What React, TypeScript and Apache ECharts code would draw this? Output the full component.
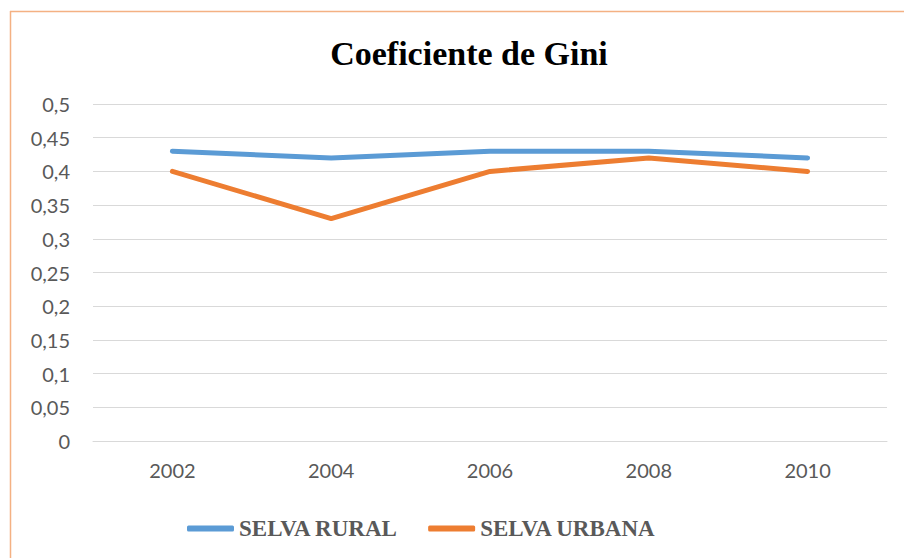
import React, { useEffect, useRef } from "react";
import * as echarts from "echarts";

const years = ["2002", "2004", "2006", "2008", "2010"];
const selvaRural = [0.43, 0.42, 0.43, 0.43, 0.42];
const selvaUrbana = [0.4, 0.33, 0.4, 0.42, 0.4];
const seriesNames = ["SELVA RURAL", "SELVA URBANA"];
const chartTitle = "Coeficiente de Gini";

export default function App() {
  const ref = useRef<HTMLDivElement>(null);
  useEffect(() => {
    if (!ref.current) return;
    const chart = echarts.init(ref.current, null, { renderer: "svg" });
    chart.setOption({
      animation: false,
      backgroundColor: "#ffffff",
      title: {
        text: chartTitle,
        left: 464,
        textAlign: "center",
        top: 31,
        textStyle: {
          fontFamily: "Liberation Serif",
          fontWeight: "bold",
          fontSize: 34,
          color: "#000000",
        },
      },
      graphic: [
        { type: "line", shape: { x1: 10.5, y1: 11, x2: 10.5, y2: 558 }, style: { stroke: "#F4B183", lineWidth: 1.5 } },
        { type: "line", shape: { x1: 10, y1: 11.5, x2: 904, y2: 11.5 }, style: { stroke: "#F4B183", lineWidth: 1.5 } },
      ],
      legend: {
        left: 182,
        top: 512,
        icon: "roundRect",
        itemWidth: 47,
        itemHeight: 6,
        itemGap: 30,
        textStyle: {
          fontFamily: "Liberation Serif",
          fontWeight: "bold",
          fontSize: 23,
          color: "#595959",
        },
        data: seriesNames,
      },
      grid: { left: 93, right: 17, top: 104, bottom: 117, containLabel: false },
      xAxis: {
        type: "category",
        data: years,
        boundaryGap: true,
        axisLine: { show: true, lineStyle: { color: "#D9D9D9", width: 1 } },
        axisTick: { show: false },
        axisLabel: { color: "#595959", fontSize: 20, fontFamily: "Lato", margin: 19 },
      },
      yAxis: {
        type: "value",
        min: 0,
        max: 0.5,
        interval: 0.05,
        axisLine: { show: false },
        axisTick: { show: false },
        splitLine: { lineStyle: { color: "#D9D9D9", width: 1 } },
        axisLabel: {
          color: "#595959",
          fontSize: 20,
          fontFamily: "Lato",
          margin: 23,
          formatter: (v: number) => String(Math.round(v * 100) / 100).replace(".", ","),
        },
      },
      series: [
        {
          name: seriesNames[0],
          type: "line",
          data: selvaRural,
          symbol: "none",
          lineStyle: { color: "#5B9BD5", width: 5, cap: "round", join: "round" },
          itemStyle: { color: "#5B9BD5" },
        },
        {
          name: seriesNames[1],
          type: "line",
          data: selvaUrbana,
          symbol: "none",
          lineStyle: { color: "#ED7D31", width: 5, cap: "round", join: "round" },
          itemStyle: { color: "#ED7D31" },
        },
      ],
    });
    return () => chart.dispose();
  }, []);
  return (
    <div style={{ position: "absolute", left: 0, top: 0, width: 904, height: 558 }}>
      <div ref={ref} style={{ width: 904, height: 558 }} />
    </div>
  );
}
